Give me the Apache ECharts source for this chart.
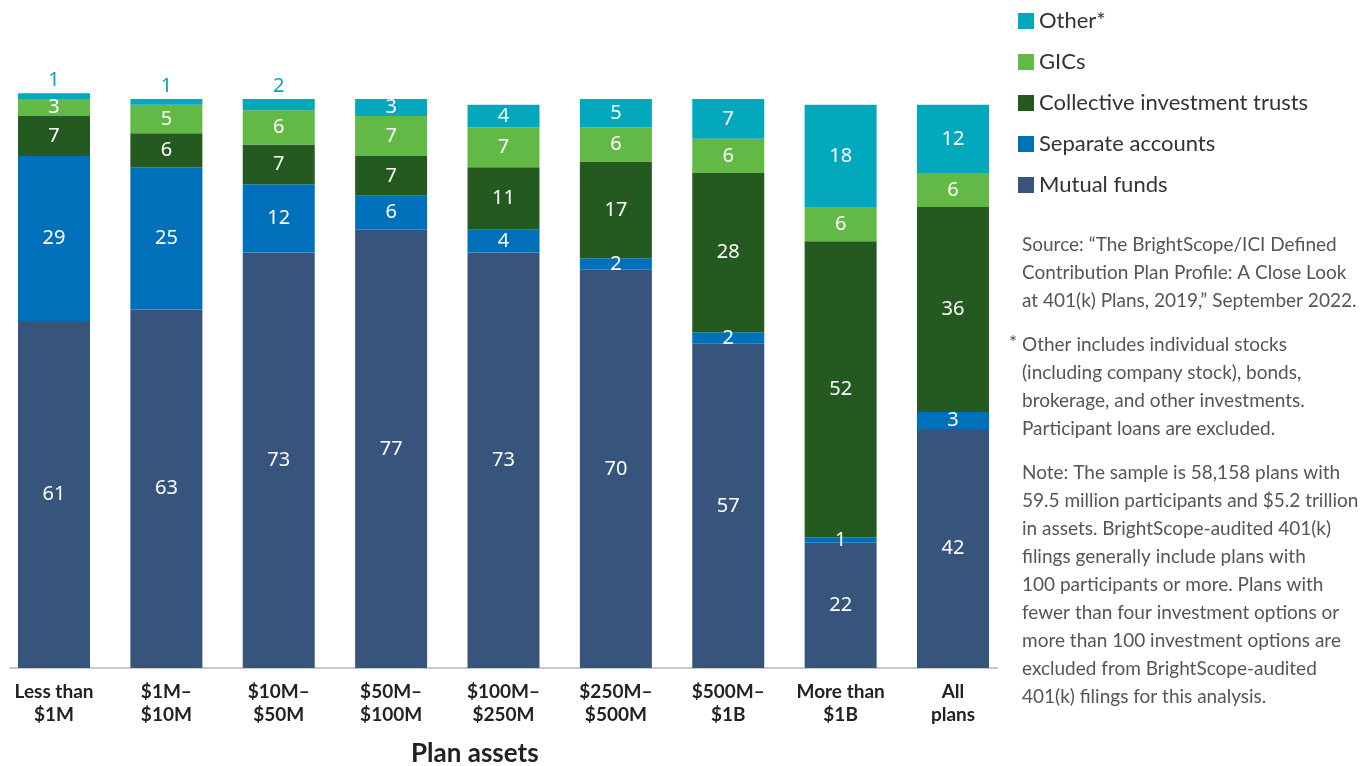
<!DOCTYPE html>
<html>
<head>
<meta charset="utf-8">
<script src="https://cdn.jsdelivr.net/npm/echarts@6/dist/echarts.min.js"></script>
<style>
html,body{margin:0;padding:0;background:#fff;}
#chart{width:1370px;height:766px;}
</style>
</head>
<body>
<div id="chart"></div>
<script>
const categories = ['Less than\n$1M', '$1M–\n$10M', '$10M–\n$50M', '$50M–\n$100M', '$100M–\n$250M', '$250M–\n$500M', '$500M–\n$1B', 'More than\n$1B', 'All\nplans'];
const seriesNames = ['Mutual funds', 'Separate accounts', 'Collective investment trusts', 'GICs', 'Other*'];
const mutualFunds = [61, 63, 73, 77, 73, 70, 57, 22, 42];
const separateAccounts = [29, 25, 12, 6, 4, 2, 2, 1, 3];
const collectiveTrusts = [7, 6, 7, 7, 11, 17, 28, 52, 36];
const gics = [3, 5, 6, 7, 7, 6, 6, 6, 6];
const other = [1, 1, 2, 3, 4, 5, 7, 18, 12];

const colors = ['#37557c', '#0070bb', '#245a1f', '#62b946', '#04a8bc'];
const FONT = 'Lato';
const LABEL_FONT = 'Noto Sans';

const sourceText = '\u201CThe BrightScope/ICI Defined\nContribution Plan Profile: A Close Look\nat 401(k) Plans, 2019,\u201D September 2022.';
const footText = 'Other includes individual stocks\n(including company stock), bonds,\nbrokerage, and other investments.\nParticipant loans are excluded.';
const noteText = 'Note: The sample is 58,158 plans with\n59.5 million participants and $5.2 trillion\nin assets. BrightScope-audited 401(k)\nfilings generally include plans with\n100 participants or more. Plans with\nfewer than four investment options or\nmore than 100 investment options are\nexcluded from BrightScope-audited\n401(k) filings for this analysis.';

const chart = echarts.init(document.getElementById('chart'));

const dataSets = [mutualFunds, separateAccounts, collectiveTrusts, gics, other];
const series = dataSets.map((arr, i) => ({
  name: seriesNames[i],
  type: 'bar',
  stack: 'total',
  barWidth: 72,
  xAxisIndex: 0,
  yAxisIndex: 0,
  itemStyle: { color: colors[i] },
  label: {
    show: true,
    position: 'inside',
    color: '#fff',
    fontSize: 20,
    fontFamily: LABEL_FONT,
    formatter: '{c}'
  },
  data: arr.map(v => {
    if (i === 4 && v < 3) {
      return { value: v, label: { position: 'top', color: colors[4], distance: 3 } };
    }
    return v;
  })
}));

chart.setOption({
  animation: false,
  textStyle: { fontFamily: FONT },
  grid: [
    { left: 54, right: 417, top: 93.3, bottom: 98 },
    { left: 10, right: 373, top: 93.3, bottom: 98 }
  ],
  xAxis: [
    {
      type: 'category',
      gridIndex: 0,
      boundaryGap: false,
      data: categories,
      axisLine: { show: false },
      axisTick: { show: false },
      axisLabel: {
        interval: 0,
        margin: 12,
        fontSize: 19,
        fontWeight: 'bold',
        color: '#222',
        lineHeight: 23,
        fontFamily: FONT
      }
    },
    {
      type: 'value',
      gridIndex: 1,
      axisLine: { show: true, lineStyle: { color: '#c8c8c8', width: 2 } },
      axisTick: { show: false },
      axisLabel: { show: false },
      splitLine: { show: false }
    }
  ],
  yAxis: [
    { type: 'value', gridIndex: 0, min: 0, max: 101, show: false },
    { type: 'value', gridIndex: 1, show: false }
  ],
  legend: {
    orient: 'vertical',
    left: 1018,
    top: 10,
    padding: 0,
    icon: 'rect',
    itemWidth: 16,
    itemHeight: 16,
    itemGap: 19,
    data: ['Other*', 'GICs', 'Collective investment trusts', 'Separate accounts', 'Mutual funds'],
    textStyle: { fontSize: 22, color: '#333', fontFamily: FONT },
    selectedMode: false
  },
  graphic: [
    {
      type: 'text', left: 411, top: 741,
      style: { text: 'Plan assets', font: 'bold 26px Lato', fill: '#222' }
    },
    {
      type: 'text', left: 1022, top: 231,
      style: { text: 'Source: ' + sourceText, font: '19px Lato', fill: '#555', lineHeight: 28 }
    },
    {
      type: 'text', left: 1009, top: 333,
      style: { text: '*', font: '19px Lato', fill: '#555' }
    },
    {
      type: 'text', left: 1022, top: 331,
      style: { text: footText, font: '19px Lato', fill: '#555', lineHeight: 28 }
    },
    {
      type: 'text', left: 1022, top: 459,
      style: { text: noteText, font: '19px Lato', fill: '#555', lineHeight: 28 }
    }
  ],
  series: series
});
</script>
</body>
</html>
